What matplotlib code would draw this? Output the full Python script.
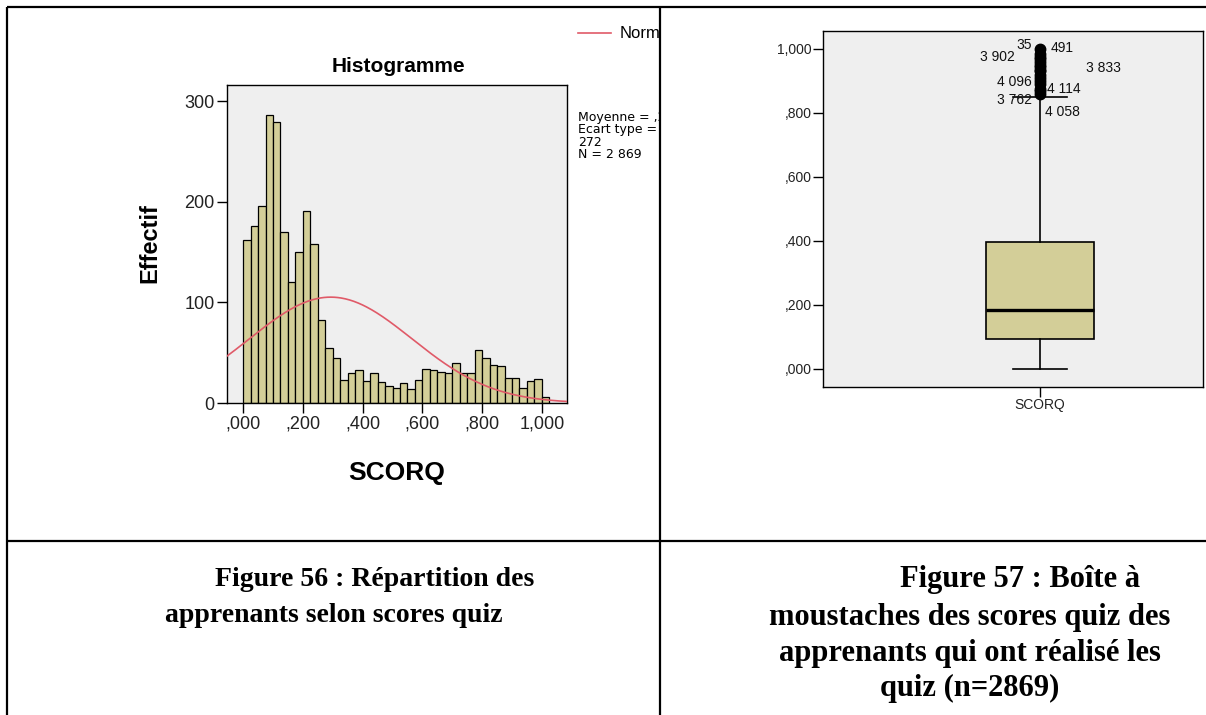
import numpy as np
import matplotlib
matplotlib.use("Agg")
import matplotlib.pyplot as plt
from matplotlib.patches import Rectangle

W, H = 1206, 715

# ---- data -------------------------------------------------------------
bin_width = 0.025
hist_counts = [162, 176, 196, 286, 279, 170, 120, 150, 191, 158,
               82, 55, 45, 23, 30, 33, 22, 30, 21, 17,
               15, 20, 14, 23, 34, 33, 31, 30, 40, 30,
               30, 53, 45, 38, 37, 25, 25, 15, 22, 24,
               6]
score_mean = 0.293
score_sd = 0.272
n_total = 2869

x_ticks = [0.0, 0.2, 0.4, 0.6, 0.8, 1.0]
x_tick_labels = [",000", ",200", ",400", ",600", ",800", "1,000"]
y_ticks = [0, 100, 200, 300]
y_tick_labels = ["0", "100", "200", "300"]

box_q1 = 0.093
box_median = 0.183
box_q3 = 0.395
box_whisker_low = 0.0
box_whisker_high = 0.848
outlier_values = [0.857, 0.867, 0.875, 0.889, 0.9, 0.909, 0.917, 0.929,
                  0.933, 0.944, 0.95, 0.958, 0.967, 0.975, 0.983, 1.0]
labelled_ids = ["35", "491", "3 902", "3 833", "4 096", "4 114", "3 762", "4 058"]
labelled_values = [1.0, 1.0, 0.975, 0.95, 0.9, 0.875, 0.85, 0.85]
box_y_ticks = [0.0, 0.2, 0.4, 0.6, 0.8, 1.0]
box_y_labels = [",000", ",200", ",400", ",600", ",800", "1,000"]

stats_lines = ["Moyenne = ,29", "Ecart type = ,", "272", "N = 2 869"]
caption_left = ["Figure 56 : Répartition des", "apprenants selon scores quiz"]
caption_right = ["Figure 57 : Boîte à", "moustaches des scores quiz des",
                 "apprenants qui ont réalisé les", "quiz (n=2869)"]

# ---- style ------------------------------------------------------------
SANS = "Liberation Sans"
SERIF = "Liberation Serif"
BAR_COLOR = "#d3ce98"
PANEL_BG = "#efefef"
CURVE_COLOR = "#e05a68"

fig = plt.figure(figsize=(W / 100, H / 100), dpi=100)
fig.patch.set_facecolor("white")


def px_axes(x0, y0, x1, y1, **kw):
    return fig.add_axes([x0 / W, 1 - y1 / H, (x1 - x0) / W, (y1 - y0) / H], **kw)


# overlay in pixel coordinates for the table grid and captions
ov = px_axes(0, 0, W, H, zorder=0)
ov.set_xlim(0, W)
ov.set_ylim(H, 0)
ov.axis("off")

grid_kw = dict(color="black", lw=1.6, solid_capstyle="butt")
ov.plot([7, 7], [7, H], **grid_kw)
ov.plot([7, W], [7, 7], **grid_kw)
ov.plot([660, 660], [7, H], **grid_kw)
ov.plot([7, W], [541, 541], **grid_kw)

# ---- histogram ----------------------------------------------------------
ax = px_axes(227, 85, 567, 403, zorder=2)
ax.set_facecolor(PANEL_BG)
edges = np.arange(len(hist_counts) + 1) * bin_width
ax.bar(edges[:-1], hist_counts, width=bin_width, align="edge",
       color=BAR_COLOR, edgecolor="black", linewidth=0.9, zorder=2)
ax.set_xlim(-0.054, 1.084)
ax.set_ylim(0, 316)
xs = np.linspace(-0.054, 1.084, 400)
density = np.exp(-0.5 * ((xs - score_mean) / score_sd) ** 2) / (score_sd * np.sqrt(2 * np.pi))
ax.plot(xs, n_total * bin_width * density, color=CURVE_COLOR, lw=1.2, zorder=3)

ax.set_xticks(x_ticks)
ax.set_xticklabels(x_tick_labels)
ax.set_yticks(y_ticks)
ax.set_yticklabels(y_tick_labels)
ax.tick_params(direction="out", length=7, width=1.0, colors="black",
               labelsize=13, labelcolor="#222222", pad=2)
for lab in ax.get_xticklabels() + ax.get_yticklabels():
    lab.set_fontfamily(SANS)
for sp in ax.spines.values():
    sp.set_linewidth(1.0)
    sp.set_color("black")

ov.text(398, 67, "Histogramme", ha="center", va="center", fontsize=15,
        fontweight="bold", family=SANS)
ov.text(397, 473, "SCORQ", ha="center", va="center", fontsize=19,
        fontweight="bold", family=SANS)
ov.text(150, 243, "Effectif", ha="center", va="center", rotation=90,
        fontsize=17, fontweight="bold", family=SANS)

# legend and statistics, cut at the cell border
cell_clip = Rectangle((7, 7), 653, 534, transform=ov.transData)
ov.plot([578, 611], [33, 33], color=CURVE_COLOR, lw=1.2)
t = ov.text(620, 33, "Normale", ha="left", va="center", fontsize=12,
            family=SANS, clip_on=True)
t.set_clip_path(cell_clip)
for i, line in enumerate(stats_lines):
    t = ov.text(578, 118 + 12 * i, line, ha="left", va="center", fontsize=9,
                family="DejaVu Sans", clip_on=True)
    t.set_clip_path(cell_clip)

# ---- box plot -----------------------------------------------------------
bx = px_axes(823, 31, 1203, 387, zorder=2)
bx.set_facecolor(PANEL_BG)
stats = [dict(med=box_median, q1=box_q1, q3=box_q3, whislo=box_whisker_low,
              whishi=box_whisker_high, fliers=outlier_values, label="SCORQ")]
bx.bxp(stats, positions=[1], widths=0.5, capwidths=0.25, patch_artist=True,
       boxprops=dict(facecolor=BAR_COLOR, edgecolor="black", linewidth=1.2),
       medianprops=dict(color="black", linewidth=2.4),
       whiskerprops=dict(color="black", linewidth=1.2),
       capprops=dict(color="black", linewidth=1.2),
       flierprops=dict(marker="o", markerfacecolor="black",
                       markeredgecolor="black", markersize=7.5))
bx.set_xlim(0.0, 1.75)
bx.set_ylim(-0.057, 1.055)
bx.set_yticks(box_y_ticks)
bx.set_yticklabels(box_y_labels)
bx.tick_params(direction="out", length=7, width=1.0, colors="black",
               labelsize=10, labelcolor="#222222", pad=1)
for lab in bx.get_xticklabels() + bx.get_yticklabels():
    lab.set_fontfamily(SANS)
for sp in bx.spines.values():
    sp.set_linewidth(1.0)
    sp.set_color("black")

offsets = [(-8, 4, "right"), (10, 1, "left"), (-25, 0, "right"), (46, -3, "left"),
           (-8, -1, "right"), (7, 0, "left"), (-8, -3, "right"), (5, -15, "left")]
for ident, val, (dx, dy, ha) in zip(labelled_ids, labelled_values, offsets):
    bx.annotate(ident, xy=(1, val), xytext=(dx, dy), textcoords="offset pixels",
                ha=ha, va="center", fontsize=10, family=SANS, color="#111111")

# ---- captions -----------------------------------------------------------
cap_kw = dict(fontweight="bold", family=SERIF, va="center")
ov.text(215, 580, caption_left[0], ha="left", fontsize=20, **cap_kw)
ov.text(165, 616, caption_left[1], ha="left", fontsize=20, **cap_kw)
ov.text(1020, 580, caption_right[0], ha="center", fontsize=22, **cap_kw)
for i, line in enumerate(caption_right[1:]):
    ov.text(970, 618 + 35 * i, line, ha="center", fontsize=22, **cap_kw)

fig.savefig("out.png", dpi=100, facecolor="white")
